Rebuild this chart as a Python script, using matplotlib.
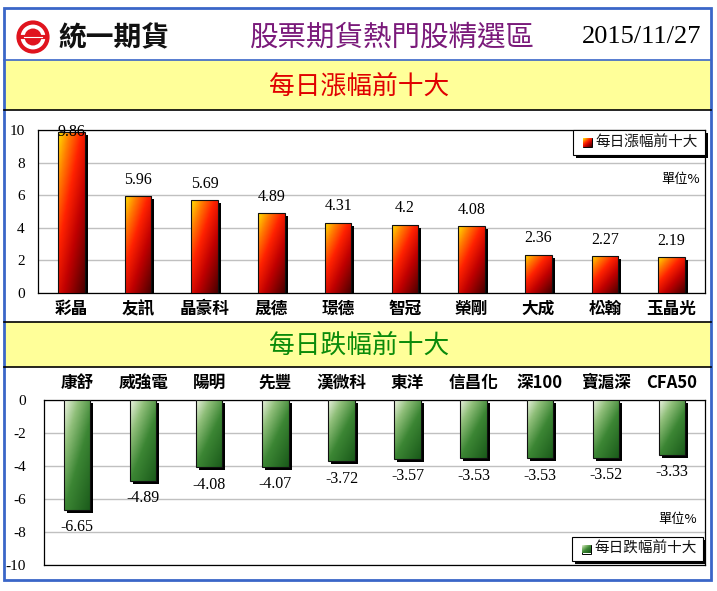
import numpy as np
import matplotlib
matplotlib.use('Agg')
import matplotlib.pyplot as plt
import matplotlib.transforms as mtransforms
from matplotlib.patches import Rectangle, Circle
from matplotlib.colors import LinearSegmentedColormap

plt.rcParams['font.family'] = ['Noto Sans CJK TC', 'DejaVu Sans']

# data
report_date = '2015/11/27'
gain_names = ['彩晶', '友訊', '晶豪科', '晟德', '璟德', '智冠', '榮剛', '大成', '松翰', '玉晶光']
gain_values = [9.86, 5.96, 5.69, 4.89, 4.31, 4.2, 4.08, 2.36, 2.27, 2.19]
loss_names = ['康舒', '威強電', '陽明', '先豐', '漢微科', '東洋', '信昌化', '深100', '寶滬深', 'CFA50']
loss_values = [-6.65, -4.89, -4.08, -4.07, -3.72, -3.57, -3.53, -3.53, -3.52, -3.33]
gain_ticks = [0, 2, 4, 6, 8, 10]
loss_ticks = [0, -2, -4, -6, -8, -10]

W, H = 717, 591
SERIF = 'Liberation Serif'

red_cmap = LinearSegmentedColormap.from_list('red', [
    (0.0, '#4a0000'), (0.35, '#c00000'), (0.6, '#ff2200'),
    (0.8, '#ff7a00'), (1.0, '#ffe000')])
green_cmap = LinearSegmentedColormap.from_list('green', [
    (0.0, '#1a5a1a'), (0.45, '#3c8634'), (0.75, '#90bf7a'), (1.0, '#eef4e4')])


def px_axes(fig, x0, y0, x1, y1):
    # axes placed by pixel box (top-left origin)
    return fig.add_axes([x0 / W, 1 - y1 / H, (x1 - x0) / W, (y1 - y0) / H])


def gradient(cmap, nx=40, ny=160):
    u = np.linspace(0, 1, nx)[None, :]
    v = np.linspace(0, 1, ny)[:, None]
    return cmap(0.45 * (1 - u) + 0.55 * v)


def draw_bars(fig, ax, values, cmap):
    x = np.arange(len(values))
    shadow = mtransforms.offset_copy(ax.transData, fig=fig, x=3, y=-3, units='dots')
    ax.bar(x, values, width=0.4, color='black', transform=shadow, zorder=2)
    bars = ax.bar(x, values, width=0.4, facecolor='none', edgecolor='#101010',
                  linewidth=0.8, zorder=4)
    img = gradient(cmap)
    for b in bars:
        x0, y0 = b.get_x(), b.get_y()
        x1, y1 = x0 + b.get_width(), y0 + b.get_height()
        im = ax.imshow(img, extent=(x0, x1, min(y0, y1), max(y0, y1)),
                       origin='lower', aspect='auto', zorder=3)
        im.set_clip_path(b)
    return bars


def style_axes(ax, ticks, pad):
    ax.set_xlim(-0.5, len(gain_values) - 0.5)
    ax.set_ylim(min(ticks), max(ticks))
    ax.set_yticks(ticks)
    ax.set_yticklabels([str(t) for t in ticks], family=SERIF, fontsize=11)
    ax.tick_params(axis='y', length=0, pad=pad)
    ax.tick_params(axis='x', length=0)
    ax.grid(axis='y', color='#c0c0c0', linewidth=1)
    ax.set_axisbelow(True)
    for s in ax.spines.values():
        s.set_linewidth(0.9)
        s.set_color('black')


fig = plt.figure(figsize=(W / 100, H / 100), dpi=100)

# background frame
bg = fig.add_axes([0, 0, 1, 1])
bg.set_xlim(0, W)
bg.set_ylim(H, 0)
bg.axis('off')
bg.add_patch(Rectangle((4, 60), 707, 50, facecolor='#ffff99', edgecolor='none'))
bg.add_patch(Rectangle((4, 322), 707, 45, facecolor='#ffff99', edgecolor='none'))
for yy, c in [(60, '#3a66c8'), (110, 'black'), (322, 'black'), (367, 'black')]:
    bg.plot([4, 711], [yy, yy], color=c, linewidth=1.2)
bg.add_patch(Rectangle((4, 8), 707, 572, facecolor='none', edgecolor='#3a66c8', linewidth=2))

# logo
bg.add_patch(Circle((33, 37), 14.5, facecolor='white', edgecolor='#e0141e', linewidth=3))
bg.add_patch(Circle((33, 37), 8.5, facecolor='#e0141e', edgecolor='none'))
bg.plot([19, 47], [37, 37], color='#e0141e', linewidth=3, solid_capstyle='butt')
bg.plot([24, 42], [37, 37], color='white', linewidth=0.8)
bg.text(58, 38, '統一期貨', fontsize=20, fontweight='bold', color='#111111',
        va='center', ha='left')
bg.text(250, 38, '股票期貨熱門股精選區', fontsize=20.5, color='#7a1a7a',
        va='center', ha='left')
bg.text(701, 37, report_date, family=SERIF, fontsize=19, va='center', ha='right')
bg.text(359, 87, '每日漲幅前十大', fontsize=18.5, color='#e00000', va='center', ha='center')
bg.text(359, 346, '每日跌幅前十大', fontsize=18.5, color='#0a8a0a', va='center', ha='center')

# gains chart
ax1 = px_axes(fig, 38, 130, 705, 293)
draw_bars(fig, ax1, gain_values, red_cmap)
style_axes(ax1, gain_ticks, 9.5)
ax1.set_xticks(np.arange(len(gain_names)))
ax1.set_xticklabels(gain_names, fontsize=12, fontweight='bold')
ax1.tick_params(axis='x', pad=5)
for i, v in enumerate(gain_values):
    ax1.text(i, min(v + 1.0, 9.9), f'{v:g}', family=SERIF, fontsize=11.5,
             ha='center', va='center', zorder=6, clip_on=False)

# losses chart
ax2 = px_axes(fig, 44, 400, 705, 565)
draw_bars(fig, ax2, loss_values, green_cmap)
style_axes(ax2, loss_ticks, 13)
ax2.set_xticks(np.arange(len(loss_names)))
ax2.set_xticklabels(loss_names, fontsize=12, fontweight='bold')
ax2.tick_params(axis='x', pad=6, labeltop=True, labelbottom=False)
for i, v in enumerate(loss_values):
    ax2.text(i, v - 1.05, f'{v:g}', family=SERIF, fontsize=11.5,
             ha='center', va='center', zorder=6)

# overlay: legends and unit labels
ov = fig.add_axes([0, 0, 1, 1], zorder=10)
ov.set_xlim(0, W)
ov.set_ylim(H, 0)
ov.axis('off')
ov.patch.set_alpha(0)


def legend_box(x0, y0, x1, y1, cmap, label):
    ov.add_patch(Rectangle((x0 + 3, y0 + 3), x1 - x0, y1 - y0, facecolor='black'))
    ov.add_patch(Rectangle((x0, y0), x1 - x0, y1 - y0, facecolor='white',
                           edgecolor='black', linewidth=0.8))
    my = (y0 + y1) / 2
    sq = Rectangle((x0 + 10, my - 4.5), 9, 9, facecolor='none', edgecolor='black', linewidth=0.7)
    ov.add_patch(sq)
    im = ov.imshow(gradient(cmap, 10, 10), extent=(x0 + 10, x0 + 19, my + 4.5, my - 4.5),
                   origin='lower', aspect='auto', zorder=3)
    im.set_clip_path(sq)
    ov.text(x0 + 22, my, label, fontsize=10.5, va='center', ha='left', color='#111111')


legend_box(573, 130, 705, 155, red_cmap, '每日漲幅前十大')
legend_box(572, 537, 703, 561, green_cmap, '每日跌幅前十大')
ov.set_xlim(0, W)
ov.set_ylim(H, 0)
ov.text(700, 180, '單位%', fontsize=9.5, ha='right', va='center')
ov.text(697, 520, '單位%', fontsize=9.5, ha='right', va='center')

fig.savefig('out.png', dpi=100)
